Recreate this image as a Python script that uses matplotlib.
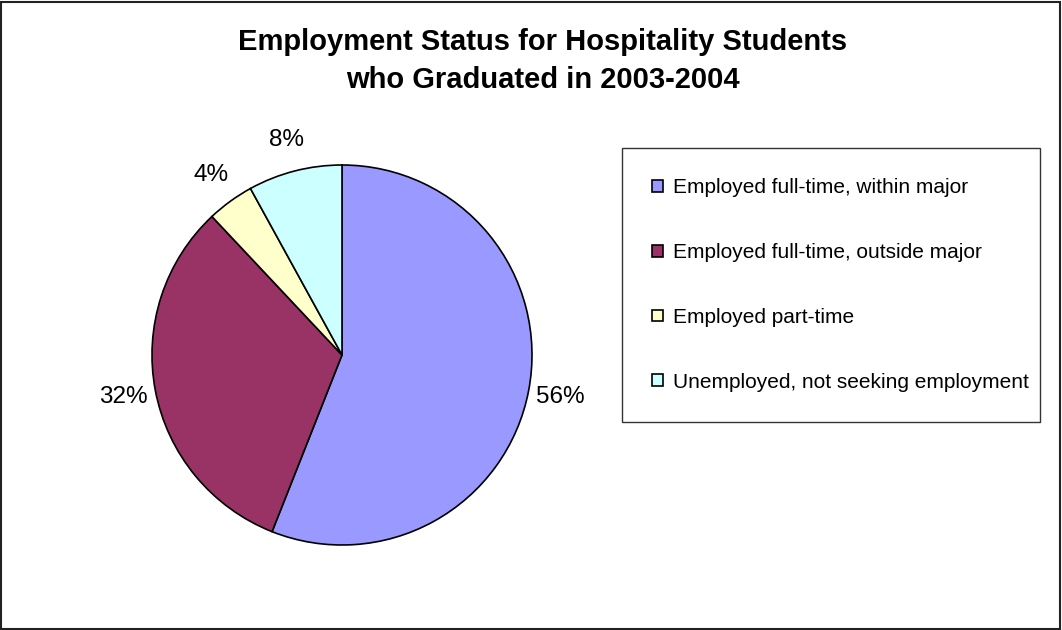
import matplotlib.pyplot as plt
from matplotlib.patches import Rectangle

# data
labels = ['Employed full-time, within major',
          'Employed full-time, outside major',
          'Employed part-time',
          'Unemployed, not seeking employment']
shares = [56, 32, 4, 8]
colors = ['#9999FF', '#993366', '#FFFFCC', '#CCFFFF']

plt.rcParams['font.family'] = ['Liberation Sans', 'DejaVu Sans']

W, H = 1062, 630
fig = plt.figure(figsize=(W / 100, H / 100), dpi=100)

# outer frame
fig.patches.append(Rectangle((1 / W, 1 / H), 1 - 3 / W, 1 - 3 / H, transform=fig.transFigure,
                             fill=False, edgecolor='#222222', linewidth=1.5))

fig.text(543 / W, 1 - 61 / H,
         'Employment Status for Hospitality Students\nwho Graduated in 2003-2004',
         ha='center', va='center', fontsize=21, fontweight='bold', linespacing=1.45)

# pie axes: center (342, 355), radius 190 px
cx, cy, r = 342, 355, 190
ax = fig.add_axes([(cx - r) / W, 1 - (cy + r) / H, 2 * r / W, 2 * r / H])
wedges, _, autotexts = ax.pie(shares, colors=colors, startangle=90, counterclock=False,
                              autopct='%1.0f%%', pctdistance=1.17, radius=1,
                              wedgeprops=dict(edgecolor='black', linewidth=1.2),
                              textprops=dict(fontsize=17.5))
ax.set_xlim(-1, 1)
ax.set_ylim(-1, 1)
ax.set_aspect('equal')
ax.axis('off')

leg = fig.legend(wedges, labels, loc='upper left',
                 bbox_to_anchor=(622 / W, 1 - 148 / H, 418 / W, 0), mode='expand',
                 borderaxespad=0, fontsize=15, frameon=True, fancybox=False,
                 edgecolor='black', borderpad=1.45, labelspacing=2.2,
                 handlelength=0.5, handleheight=0.5, handletextpad=0.5)
leg.get_frame().set_linewidth(1.0)

fig.savefig('out.png', dpi=100)
